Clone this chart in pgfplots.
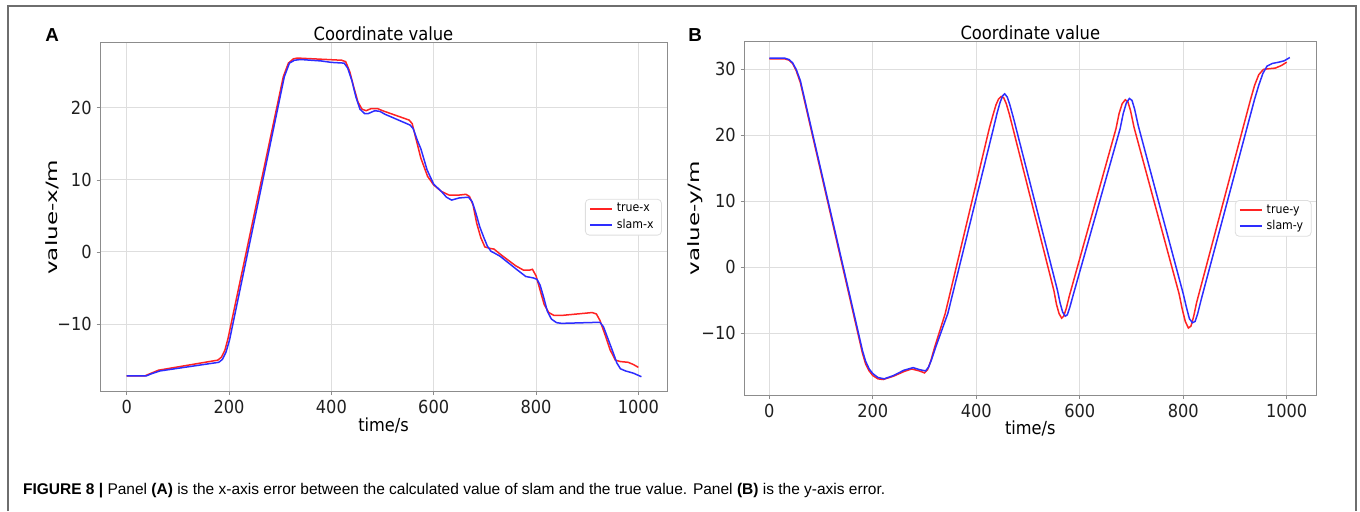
\documentclass[border=0pt]{standalone}
\usepackage{fontspec}
\usepackage{graphicx}
\setmainfont{DejaVu Sans}
\newfontfamily\cond{DejaVu Sans Condensed}
\newfontfamily\arial{Liberation Sans}
\usepackage{pgfplots}
\pgfplotsset{compat=1.18}
\definecolor{tred}{RGB}{255,35,35}
\definecolor{sblue}{RGB}{45,45,255}
\definecolor{gridc}{RGB}{222,222,222}
\definecolor{spine}{RGB}{140,140,140}
\definecolor{framec}{RGB}{110,110,110}
\pgfplotsset{legend image code/.code={\draw[line width=0.75pt,#1] (0pt,0pt) -- (11pt,0pt);}}
\pgfplotsset{mystyle/.style={
  scale only axis,
  axis line style={spine, line width=0.5pt},
  grid=major, major grid style={gridc, line width=0.5pt},
  tick pos=left,
  tick align=outside, major tick length=1.75pt, tick style={spine, line width=0.4pt},
  xtick={0,200,400,600,800,1000}, xticklabels={0,200,400,600,800,1000},
  tick label style={font=\cond\fontsize{9}{10}\selectfont, text=black!88},
  xticklabel style={anchor=north, yshift=-1.5pt, inner sep=1pt},
  yticklabel style={anchor=east, xshift=-1.25pt, inner sep=1pt},
  xlabel style={font=\cond\fontsize{9}{10}\selectfont, at={(axis description cs:0.5,-0.098)}, anchor=center},
  ylabel style={font=\fontsize{11.5}{12}\selectfont, at={(axis description cs:-0.0847,0.5)}, anchor=center},
  every axis title/.style={font=\cond\fontsize{9.1}{10}\selectfont, at={(axis description cs:0.5,1)}, anchor=base, yshift=1pt},
  legend style={at={(axis description cs:0.991,0.5)}, anchor=east, draw=gridc, rounded corners=2pt,
    font=\cond\fontsize{6.1}{7}\selectfont, inner xsep=2pt, inner ysep=1pt,
    nodes={inner ysep=1pt}, cells={anchor=west}},
  every axis plot/.append style={line width=0.75pt},
}}
\begin{document}
\begin{tikzpicture}
\path[use as bounding box] (0,0) rectangle (680pt,255.5pt);
\draw[framec, line width=0.8pt] (4pt,0pt) -- (4pt,252.5pt) -- (678pt,252.5pt) -- (678pt,0pt);
\node[anchor=base west, inner sep=0pt, font=\arial\bfseries\fontsize{9.4}{10}\selectfont] at (22.5pt,234.65pt) {A};
\node[anchor=base west, inner sep=0pt, font=\arial\bfseries\fontsize{9.4}{10}\selectfont] at (344pt,234.65pt) {B};
\node[anchor=base west, inner sep=0pt, font=\arial\fontsize{7.75}{9}\selectfont] at (11.35pt,8.35pt)
  {{\bfseries FIGURE 8 |} Panel {\bfseries (A)} is the x-axis error between the calculated value of slam and the true value. Panel {\bfseries (B)} is the y-axis error.};

\begin{axis}[mystyle, at={(50pt,59.65pt)}, anchor=south west, width=283.5pt, height=174.5pt,
  xmin=-52.2, xmax=1056, ymin=-19.38, ymax=29.03,
  ytick={-10,0,10,20}, yticklabels={−10,0,10,20},
  title={Coordinate value}, xlabel={time/s}, ylabel={\scalebox{1}[0.68]{value-x/m}}]
\addplot[tred] coordinates {
(0,-17.2)(35,-17.2)(45,-16.9)(62,-16.4)(178,-15.0)(185,-14.6)(192,-13.6)(198,-12.0)
(306,24.3)(316,26.2)(326,26.8)(334,26.9)(420,26.6)(428,26.4)(436,25.0)(444,22.8)
(452,20.8)(460,19.8)(468,19.6)(478,19.9)(490,19.9)(500,19.6)(552,18.3)(558,17.8)
(565,15.8)(575,13.0)(588,10.5)(600,9.3)(615,8.4)(630,7.9)(650,7.9)(663,8.0)(670,7.7)
(677,6.5)(684,4.0)(692,2.0)(700,0.7)(710,0.5)(718,0.4)(730,-0.3)(760,-1.9)(775,-2.5)
(788,-2.5)(793,-2.4)(800,-3.3)(808,-5.3)(816,-7.3)(825,-8.4)(835,-8.8)(850,-8.8)
(910,-8.4)(918,-8.6)(925,-9.5)(935,-11.5)(945,-13.6)(955,-15.0)(965,-15.2)(980,-15.3)
(990,-15.6)(1000,-16.0)};
\addlegendentry{true-x}
\addplot[sblue] coordinates {
(0,-17.2)(38,-17.2)(48,-16.9)(65,-16.5)(180,-15.3)(187,-14.9)(194,-13.9)(201,-12.2)
(308,24.3)(318,26.2)(328,26.6)(340,26.7)(380,26.5)(400,26.3)(425,26.2)(432,25.5)
(440,23.8)(448,21.5)(456,19.8)(465,19.2)(472,19.2)(485,19.6)(495,19.5)(505,19.1)
(554,17.6)(560,17.1)(568,15.5)(575,14.3)(587,11.4)(600,9.4)(615,8.4)(625,7.6)(635,7.2)
(650,7.5)(668,7.6)(675,7.0)(682,5.5)(690,3.5)(698,2.0)(705,0.8)(712,0.1)(720,-0.2)
(730,-0.6)(760,-2.3)(780,-3.4)(795,-3.6)(802,-3.8)(808,-4.6)(815,-6.3)(822,-8.2)
(830,-9.3)(840,-9.8)(850,-9.9)(925,-9.75)(932,-10.4)(942,-12.3)(951,-14.0)(958,-15.4)
(965,-16.2)(975,-16.5)(990,-16.8)(1006,-17.3)};
\addlegendentry{slam-x}
\end{axis}

\begin{axis}[mystyle, at={(372pt,58pt)}, anchor=south west, width=286.35pt, height=176.65pt,
  xmin=-48.9, xmax=1058, ymin=-19.35, ymax=34.2,
  ytick={-10,0,10,20,30}, yticklabels={−10,0,10,20,30},
  title={Coordinate value}, xlabel={time/s}, ylabel={\scalebox{1}[0.68]{value-y/m}},
  xlabel style={at={(axis description cs:0.5,-0.096)}}]
\addplot[tred] coordinates {
(0,31.6)(30,31.6)(38,31.4)(45,30.9)(52,29.8)(60,28.0)(180,-13.0)(186,-14.6)(193,-15.7)
(200,-16.4)(210,-16.9)(220,-17.0)(240,-16.5)(260,-15.8)(275,-15.4)(290,-15.7)(300,-16.0)
(306,-15.5)(312,-14.2)(320,-12.0)(340,-7.0)
(425,21.0)(432,23.0)(438,24.6)(443,25.5)(448,25.9)(453,25.7)(458,24.8)(464,23.2)
(550,-3.5)(555,-5.6)(560,-7.0)(565,-7.7)(569,-7.4)(574,-6.2)(580,-4.3)
(670,21.0)(676,23.3)(682,24.8)(688,25.4)(693,25.1)(698,23.8)(705,21.2)
(792,-4.0)(798,-6.3)(804,-8.2)(810,-9.2)(815,-8.9)(820,-7.5)(826,-5.3)
(930,25.4)(938,27.6)(946,29.2)(955,30.0)(965,30.1)(978,30.2)(990,30.6)(1000,31.1)};
\addlegendentry{true-y}
\addplot[sblue] coordinates {
(0,31.7)(30,31.7)(38,31.5)(45,31.0)(52,30.0)(60,28.3)(180,-12.6)(186,-14.2)(193,-15.4)
(200,-16.1)(210,-16.7)(222,-16.9)(240,-16.4)(260,-15.6)(278,-15.2)(290,-15.5)(302,-15.7)
(308,-15.1)(314,-13.9)(322,-12.0)(345,-7.0)
(433,21.0)(440,23.3)(446,25.0)(451,26.0)(455,26.3)(460,25.8)(465,24.6)(472,22.6)
(557,-3.5)(562,-5.4)(567,-6.8)(572,-7.4)(576,-7.2)(581,-6.0)(588,-4.0)
(678,21.0)(684,23.3)(690,24.9)(696,25.6)(701,25.3)(706,24.0)(713,21.5)
(800,-4.0)(806,-6.0)(812,-7.8)(818,-8.4)(823,-8.2)(828,-7.0)(835,-4.8)
(938,25.5)(946,27.6)(954,29.4)(962,30.5)(972,30.9)(985,31.1)(995,31.3)(1006,31.8)};
\addlegendentry{slam-y}
\end{axis}
\end{tikzpicture}
\end{document}
